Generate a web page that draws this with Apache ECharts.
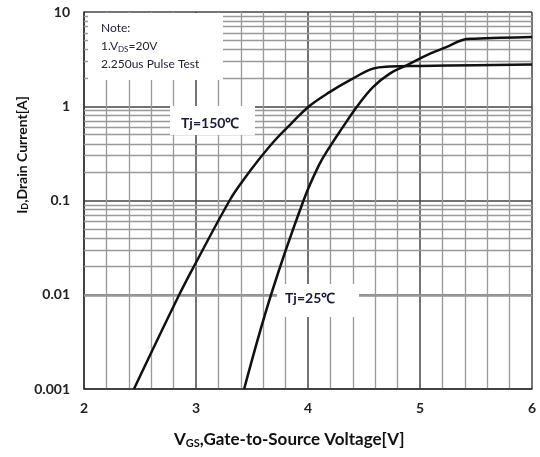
<!DOCTYPE html>
<html><head><meta charset="utf-8">
<script src="https://cdn.jsdelivr.net/npm/echarts@6/dist/echarts.min.js"></script>
<style>html,body{margin:0;padding:0;background:#fff}#c{width:540px;height:457px}</style>
</head><body><div id="c"></div>
<script>
// Tj = 150 °C curve: [VGS (V), ID (A)]
var curve150 = [[2.446,0.001],[2.85,0.01],[3.0,0.022],[3.30,0.1],[3.41,0.157],[3.556,0.267],[3.705,0.436],[3.85,0.655],[4.01,1.0],[4.196,1.42],[4.375,1.89],[4.58,2.51],[4.73,2.64],[5.0,2.68],[5.5,2.73],[6.0,2.78]];
// Tj = 25 °C curve
var curve25 = [[3.43,0.001],[3.67,0.01],[3.96,0.1],[4.10,0.24],[4.20,0.38],[4.30,0.575],[4.44,1.0],[4.58,1.6],[4.73,2.22],[4.88,2.72],[5.09,3.62],[5.24,4.26],[5.38,5.05],[5.48,5.2],[6.0,5.43]];
var xTicks = [2,3,4,5,6];
var yTicks = ['0.001','0.01','0.1','1','10'];
var yMinor = [];
[0.001,0.01,0.1,1].forEach(function(d){for(var k=2;k<=9;k++){yMinor.push(+(d*k).toPrecision(3));}});

var chart = echarts.init(document.getElementById('c'));
var fontF = 'Lato, "Open Sans", sans-serif';
chart.setOption({
  animation:false,
  grid:{left:84,right:8,top:12,bottom:68,show:false},
  xAxis:{type:'value',min:xTicks[0],max:xTicks[xTicks.length-1],interval:1,
    axisLine:{show:true,lineStyle:{color:'#333',width:1.5}},axisTick:{show:false},
    axisLabel:{margin:12,color:'#222',fontFamily:fontF,fontWeight:'bold',fontSize:14},
    splitLine:{show:true,lineStyle:{color:'#444',width:1.5}},
    minorTick:{show:false,splitNumber:5},
    minorSplitLine:{show:true,lineStyle:{color:'#999',width:1.3}}},
  yAxis:{type:'log',logBase:10,min:0.001,max:10,
    axisLine:{show:true,lineStyle:{color:'#333',width:1.5}},axisTick:{show:false},
    axisLabel:{margin:14,color:'#222',fontFamily:fontF,fontWeight:'bold',fontSize:14,
      formatter:function(v){var i=Math.round(Math.log10(v))+3;return yTicks[i]!==undefined?yTicks[i]:'';}},
    splitLine:{show:true,lineStyle:{color:'#444',width:1.5}}},
  series:[
    {type:'line',data:[],silent:true,
      markLine:{silent:true,symbol:['none','none'],label:{show:false},
        lineStyle:{color:'#999',width:1.3,type:'solid'},
        data:yMinor.map(function(v){return {yAxis:v};})},z:1},
    {type:'line',data:curve150,smooth:0.4,showSymbol:false,lineStyle:{color:'#111',width:2.5},z:5},
    {type:'line',data:curve25,smooth:0.4,showSymbol:false,lineStyle:{color:'#111',width:2.5},z:5}
  ],
  graphic:[
    {type:'rect',z:50,shape:{x:88,y:13,width:135,height:67},style:{fill:'#fff'}},
    {type:'text',z:51,left:101,top:22,style:{text:'Note:',fill:'#22223a',font:'12px '+fontF}},
    {type:'text',z:51,left:101,top:40,style:{rich:{n:{fill:'#22223a',font:'12px '+fontF},s:{fill:'#22223a',font:'8px '+fontF,padding:[6,0,0,0]}},text:'{n|1.V}{s|DS}{n|=20V}'}},
    {type:'text',z:51,left:101,top:58,style:{text:'2.250us Pulse Test',fill:'#22223a',font:'12px '+fontF}},
    {type:'rect',z:50,shape:{x:170,y:106,width:85,height:29},style:{fill:'#fff'}},
    {type:'text',z:51,left:181,top:116,style:{text:'Tj=150℃',fill:'#1a1a3a',font:'bold 14px '+fontF}},
    {type:'rect',z:50,shape:{x:277,y:284,width:82,height:33},style:{fill:'#fff'}},
    {type:'text',z:51,left:285,top:291,style:{text:'Tj=25℃',fill:'#1a1a3a',font:'bold 14px '+fontF}},
    {type:'text',z:51,left:174,top:431,style:{rich:{n:{fill:'#111',font:'bold 17px '+fontF},s:{fill:'#111',font:'bold 11px '+fontF,padding:[7,0,0,0]}},text:'{n|V}{s|GS}{n|,Gate-to-Source Voltage[V]}'}},
    {type:'text',z:51,x:22,y:155,rotation:Math.PI/2,style:{align:'center',verticalAlign:'middle',rich:{n:{fill:'#111',font:'bold 14px '+fontF},s:{fill:'#111',font:'bold 9px '+fontF,padding:[6,0,0,0]}},text:'{n|I}{s|D}{n|,Drain Current[A]}'}}
  ]
});
</script></body></html>
